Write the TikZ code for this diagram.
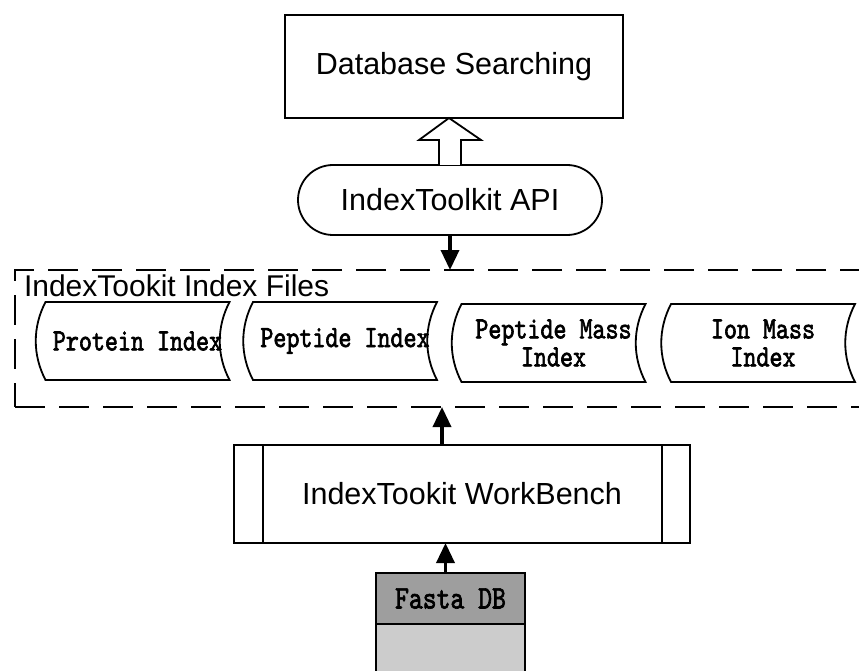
\documentclass[tikz,border=0pt]{standalone}
\usepackage{fontspec}
\setmainfont{Liberation Sans}
\newfontfamily\monof{lmmono10-regular.otf}[FakeStretch=0.8,FakeBold=2]
\usetikzlibrary{arrows.meta,calc,shapes.misc}
\newcommand{\monofnt}[1]{\monof\fontsize{#1}{28}\selectfont}
\tikzset{
  every node/.style={inner sep=0pt, outer sep=0pt},
  lw/.style={line width=1.8pt},
  sansbox/.style={lw, draw, font=\fontsize{30.5}{34}\selectfont},
  apinode/.style={lw, draw, rounded rectangle, minimum width=304pt, minimum height=70pt, font=\fontsize{30.5}{34}\selectfont},
  filesbox/.style={line width=2.5pt, draw, dash pattern=on 30pt off 14pt},
  stored/.style={minimum width=184pt, minimum height=78pt, align=center,
    font=\monofnt{31}},
  fillarrow/.style={line width=3.5pt, -{Triangle[length=20pt,width=18pt]}},
  hollow/.style={lw, draw, fill=white, line join=miter},
}
\begin{document}
\begin{tikzpicture}[x=1pt,y=-1pt]
\useasboundingbox (0,0) rectangle (859,671);
\clip (0,0) rectangle (859,671);
% top box
\node[sansbox, minimum width=338pt, minimum height=103pt] (db) at (454,66.5) {Database Searching};
% API
\node[apinode] (api) at (450,200) {IndexToolkit API};
% dashed container
\node[filesbox, minimum width=865pt, minimum height=137pt] (files) at (447.5,338.5) {};
\node[anchor=west, font=\fontsize{30}{34}\selectfont] (flabel) at (24,286) {IndexTookit Index Files};
% stored-data nodes
\node[stored] (s1) at (137.5,341) {Protein Index};
\node[stored] (s2) at (345,341) {Peptide Index};
\node[stored] (s3) at (553.5,343) {Peptide Mass\\Index};
\node[stored] (s4) at (763,343) {Ion Mass\\Index};
\foreach \n in {s1,s2,s3,s4}{
  \draw[lw] (\n.north west) .. controls +(-13,25) and +(-13,-25) .. (\n.south west)
    -- (\n.south east) .. controls +(-13,-25) and +(-13,25) .. (\n.north east) -- cycle;
}
% workbench
\node[sansbox, minimum width=456pt, minimum height=98pt] (wb) at (462,494) {IndexTookit WorkBench};
\draw[lw] ($(wb.north west)+(29,0)$) -- ($(wb.south west)+(29,0)$);
\draw[lw] ($(wb.north east)+(-28,0)$) -- ($(wb.south east)+(-28,0)$);
% Fasta DB
\node[lw, draw, fill=black!38, minimum width=149pt, minimum height=51pt,
  font=\monofnt{33}] (fasta) at (450.5,598.5) {Fasta DB};
\draw[lw, fill=black!20] (fasta.south west) rectangle ($(fasta.south east)+(0,60)$);
% arrows
\coordinate (tip) at (api.north |- db.south);
\draw[hollow] ($(api.north)+(-11,0)$) -- ++(0,-25) -- ++(-20,0) -- ($(tip)+(-1,0)$)
  -- ($(api.north)+(31,-25)$) -- ++(-20,0) -- ($(api.north)+(11,0)$);
\draw[fillarrow] (api.south) -- (api.south |- files.north);
\coordinate (wbup) at ($(wb.north)+(-20,0)$);
\draw[fillarrow] (wbup) -- (wbup |- files.south);
\coordinate (faup) at ($(fasta.north)+(-5,0)$);
\draw[fillarrow] (faup) -- (faup |- wb.south);
\end{tikzpicture}
\end{document}
